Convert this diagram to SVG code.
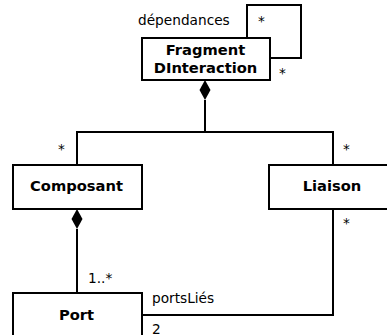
<svg xmlns="http://www.w3.org/2000/svg" width="387" height="335" viewBox="0 0 387 335">
<style>
.box{fill:#fff;stroke:#000;stroke-width:2}
.ln{fill:none;stroke:#000;stroke-width:2}
.t{font-family:"DejaVu Sans",sans-serif;font-size:13.7px;fill:#000}
.b{font-weight:bold;text-anchor:middle;font-size:14.7px}
</style>
<g id="connectors">
<path class="ln" d="M247,38 V5 H301 V58 H269"/>
<path class="ln" d="M205,100 V132 M77,165 V132 H333 V165"/>
<path d="M205,80 L210.5,90 L205,100 L199.5,90 Z" fill="#000"/>
<path class="ln" d="M77,229 V293"/>
<path d="M77,209 L82.5,219 L77,229 L71.5,219 Z" fill="#000"/>
<path class="ln" d="M333,209 V315 H141"/>
<text class="t" x="138" y="25">dépendances</text>
<text class="t" x="258" y="26">*</text>
<text class="t" x="279" y="78">*</text>
<text class="t" x="58" y="154">*</text>
<text class="t" x="343" y="154">*</text>
<text class="t" x="343" y="228">*</text>
<text class="t" x="88" y="283">1..*</text>
<text class="t" x="152" y="303">portsLiés</text>
<text class="t" x="152" y="334">2</text>
</g>
<g id="FragmentDInteraction">
<rect class="box" x="142" y="38" width="128" height="42"/>
<text class="t b" x="205.5" y="55">Fragment</text>
<text class="t b" x="205.5" y="73">DInteraction</text>
</g>
<g id="Composant">
<rect class="box" x="13" y="165" width="129" height="44"/>
<text class="t b" x="76.5" y="191">Composant</text>
</g>
<g id="Liaison">
<rect class="box" x="269" y="165" width="126" height="44"/>
<text class="t b" x="332" y="191">Liaison</text>
</g>
<g id="Port">
<rect class="box" x="13" y="293" width="129" height="50"/>
<text class="t b" x="76.5" y="320">Port</text>
</g>
</svg>
